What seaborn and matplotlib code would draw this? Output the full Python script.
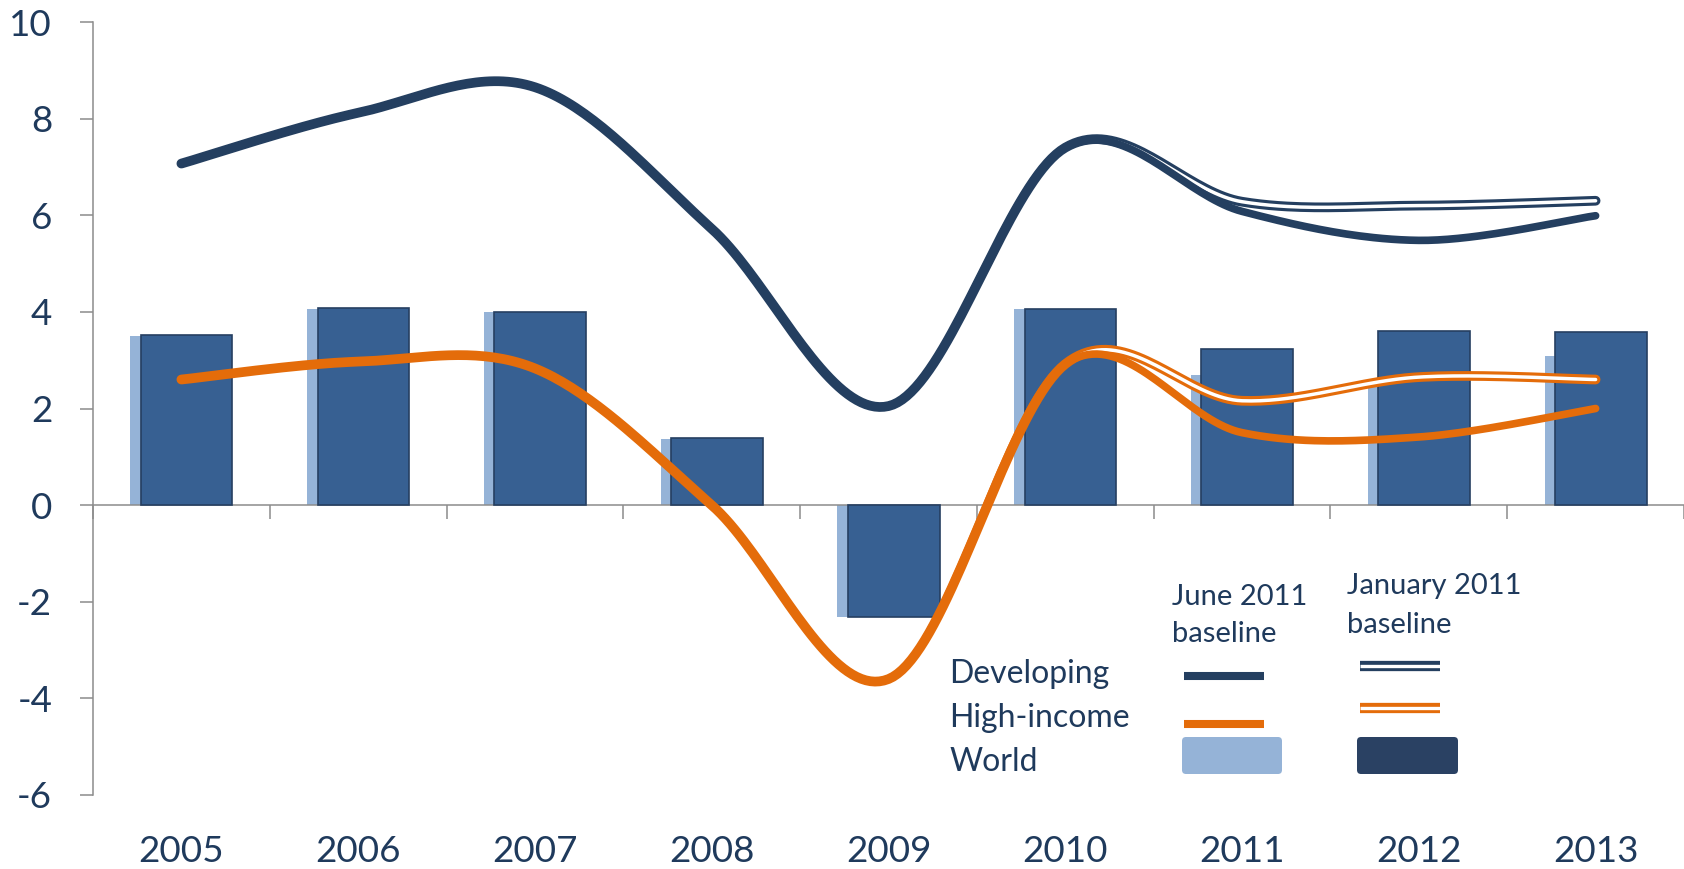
import numpy as np
import pandas as pd
import matplotlib
matplotlib.use("Agg")
import matplotlib.pyplot as plt
from matplotlib.lines import Line2D
from matplotlib.patches import FancyBboxPatch
from matplotlib.transforms import IdentityTransform
import seaborn as sns

# ---- data -------------------------------------------------------------
years = ["2005", "2006", "2007", "2008", "2009", "2010", "2011", "2012", "2013"]

# World GDP growth (bars)
world_june = [3.50, 4.05, 4.00, 1.37, -2.32, 4.05, 2.69, 2.44, 3.08]
world_jan = [3.52, 4.07, 4.00, 1.39, -2.32, 4.05, 3.23, 3.60, 3.58]

# Developing / high-income growth (solid lines)
dev_june = [7.07, 8.12, 8.65, 5.72, 2.05, 7.40, 6.08, 5.48, 5.99]
hi_june = [2.60, 2.97, 2.83, 0.00, -3.60, 2.92, 1.50, 1.41, 2.00]

# Developing / high-income growth (double lines)
dev_jan = [7.07, 8.12, 8.65, 5.72, 2.05, 7.40, 6.28, 6.20, 6.30]
hi_jan = [2.60, 2.97, 2.83, 0.00, -3.60, 2.92, 2.16, 2.65, 2.60]

# ---- style ------------------------------------------------------------
NAVY = "#243F60"
ORANGE = "#E46C0A"
BAR = "#376092"
BAR_EDGE = "#263F61"
LIGHT = "#95B3D7"
LEG_DARK = "#2A4163"
TEXT = "#1F3A5C"
GRAY = "#8C8C8C"

sns.set_style("white")
plt.rcParams["font.family"] = ["Lato", "DejaVu Sans"]
plt.rcParams["axes.unicode_minus"] = False

W, H = 1684, 869
BAR_W = 0.518
BAR_SHIFT = 0.0295


def smooth(xv, yv, n=40):
    """Excel-style smoothed line (Catmull-Rom Bezier segments)."""
    pts = np.column_stack([xv, yv]).astype(float)
    P = np.vstack([pts[0], pts, pts[-1]])
    t = np.linspace(0, 1, n)[:, None]
    out = []
    for i in range(1, len(P) - 2):
        p0, p1, p2, p3 = P[i - 1], P[i], P[i + 1], P[i + 2]
        c1 = p1 + (p2 - p0) / 6
        c2 = p2 - (p3 - p1) / 6
        seg = ((1 - t) ** 3 * p1 + 3 * (1 - t) ** 2 * t * c1
               + 3 * (1 - t) * t ** 2 * c2 + t ** 3 * p2)
        out.append(seg if i == 1 else seg[1:])
    arr = np.vstack(out)
    return arr[:, 0], arr[:, 1]


fig = plt.figure(figsize=(W / 100, H / 100), dpi=100)
ax = fig.add_axes([93 / W, 74 / H, 1 - 93 / W, (795 - 22) / H])

pos = np.arange(len(years))
bars = pd.DataFrame({
    "pos_june": pos - BAR_SHIFT,
    "pos_jan": pos + BAR_SHIFT,
    "june": world_june,
    "jan": world_jan,
})

sns.barplot(data=bars, x="pos_june", y="june", native_scale=True, width=BAR_W,
            color=LIGHT, saturation=1, errorbar=None, linewidth=0,
            ax=ax, zorder=2)
sns.barplot(data=bars, x="pos_jan", y="jan", native_scale=True, width=BAR_W,
            color=BAR, saturation=1, errorbar=None, edgecolor=BAR_EDGE,
            linewidth=1.2, ax=ax, zorder=3)


def double_line(xv, yv, color, z):
    sx, sy = smooth(xv, yv)
    sns.lineplot(x=sx, y=sy, sort=False, estimator=None, color=color,
                 linewidth=7.0, solid_capstyle="round", ax=ax, zorder=z)
    sns.lineplot(x=sx, y=sy, sort=False, estimator=None, color="white",
                 linewidth=2.5, solid_capstyle="round", ax=ax, zorder=z + 0.1)


def solid_line(xv, yv, color, z):
    sx, sy = smooth(xv, yv)
    sns.lineplot(x=sx, y=sy, sort=False, estimator=None, color=color,
                 linewidth=5.5, solid_capstyle="round", ax=ax, zorder=z)


double_line(pos, hi_jan, ORANGE, 4)
double_line(pos, dev_jan, NAVY, 4)
solid_line(pos, hi_june, ORANGE, 5)
solid_line(pos, dev_june, NAVY, 5)

# ---- axes -------------------------------------------------------------
ax.set_xlim(-0.5, 8.5)
ax.set_ylim(-6, 10)
ax.set_xlabel("")
ax.set_ylabel("")
ax.set_yticks(range(-6, 11, 2))
for side in ("top", "right"):
    ax.spines[side].set_visible(False)
ax.spines["left"].set_color(GRAY)
ax.spines["left"].set_linewidth(1.1)
ax.spines["bottom"].set_position(("data", 0))
ax.spines["bottom"].set_color(GRAY)
ax.spines["bottom"].set_linewidth(1.1)
ax.tick_params(axis="y", left=True, length=9.4, width=1.1, color=GRAY,
               direction="out", pad=20, labelsize=26.5, labelcolor=TEXT)
ax.set_xticks([])
ax.set_xticks(np.arange(-0.5, 9, 1), minor=True)
ax.tick_params(axis="x", which="minor", bottom=True, length=10, width=1.1,
               color=GRAY, direction="out")

sec = ax.secondary_xaxis("bottom")
sec.set_xticks(pos, labels=years)
sec.tick_params(length=0, pad=29, labelsize=26.5, labelcolor=TEXT)
sec.spines["bottom"].set_visible(False)

# ---- legend -----------------------------------------------------------
def fx(x):
    return x / W


def fy(y):
    return 1 - y / H


for label, base in (("Developing", 683), ("High-income", 727), ("World", 771)):
    fig.text(fx(949), fy(base), label, fontsize=23, color=TEXT,
             va="baseline", ha="left")

fig.text(fx(1172), fy(605), "June 2011", fontsize=21, color=TEXT, va="baseline")
fig.text(fx(1172), fy(642), "baseline", fontsize=21, color=TEXT, va="baseline")
fig.text(fx(1347), fy(594), "January 2011", fontsize=21, color=TEXT, va="baseline")
fig.text(fx(1347), fy(633), "baseline", fontsize=21, color=TEXT, va="baseline")

fig.add_artist(Line2D([fx(1184), fx(1264)], [fy(676)] * 2, color=NAVY,
                      lw=5.8, solid_capstyle="butt"))
fig.add_artist(Line2D([fx(1184), fx(1264)], [fy(724)] * 2, color=ORANGE,
                      lw=5.8, solid_capstyle="butt"))
for yy, col in ((666, NAVY), (708, ORANGE)):
    fig.add_artist(Line2D([fx(1360), fx(1440)], [fy(yy)] * 2, color=col,
                          lw=7.4, solid_capstyle="butt"))
    fig.add_artist(Line2D([fx(1360), fx(1440)], [fy(yy)] * 2, color="white",
                          lw=2.4, solid_capstyle="butt"))

for x0, x1, col in ((1182, 1282, LIGHT), (1357, 1458, LEG_DARK)):
    fig.add_artist(FancyBboxPatch((x0, H - 774), x1 - x0, 37,
                                  boxstyle="round,pad=0,rounding_size=4",
                                  facecolor=col, edgecolor="none",
                                  transform=IdentityTransform()))

fig.savefig("out.png", dpi=100)
